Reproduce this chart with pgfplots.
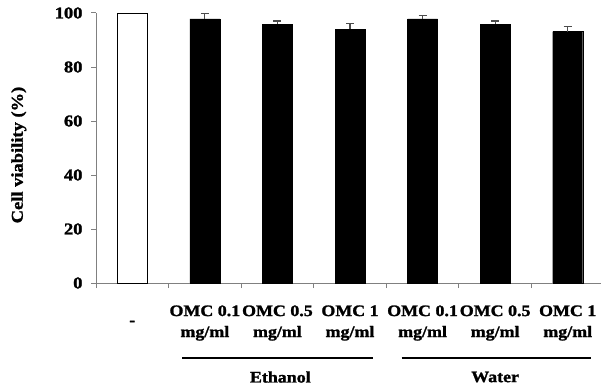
\documentclass[border=0pt]{standalone}
\usepackage{fontspec}
\setmainfont[FakeStretch=1.12, BoldFeatures={FakeBold=1.5}]{Liberation Serif}
\usepackage{pgfplots}
\pgfplotsset{compat=1.18}
\begin{document}
\fontsize{16bp}{21bp}\selectfont\bfseries
\begin{tikzpicture}
\begin{axis}[
  scale only axis,
  width=508bp, height=270bp,
  xmin=-0.5, xmax=6.5,
  ymin=0, ymax=100,
  clip=false,
  axis x line=bottom, axis y line=left,
  axis line style={-, draw=gray, line width=1bp},
  ytick={0,20,40,60,80,100},
  major tick length=5bp,
  tick align=outside,
  tick style={draw=black!50, line width=1bp},
  xtick={-0.5,0.5,1.5,2.5,3.5,4.5,5.5,6.5},
  x tick label as interval,
  xticklabels={-, {OMC 0.1\\mg/ml}, {OMC 0.5\\mg/ml}, {OMC 1\\mg/ml}, {OMC 0.1\\mg/ml}, {OMC 0.5\\mg/ml}, {OMC 1\\mg/ml}},
  xticklabel style={align=center, anchor=center, yshift=-35bp, font=\fontsize{16bp}{21bp}\selectfont\bfseries},
  yticklabel style={xshift=-3bp, font=\fontsize{16.5bp}{18bp}\selectfont\bfseries},
  /pgf/number format/assume math mode=true,
  ylabel={Cell viability (\%)},
  ylabel style={at={(axis description cs:-0.152,0.474)}, anchor=center, font=\fontsize{16.5bp}{18bp}\selectfont\bfseries},
  ybar, bar width=30bp,
  error bars/y dir=plus, error bars/y explicit,
  error bars/error bar style={draw=black!70, line width=1.2bp},
  error bars/error mark options={rotate=90, mark size=4bp, draw=black!70, line width=1.2bp},
]
\addplot[bar shift=0pt, fill=white, draw=black, line width=0.8bp, error bars/y dir=none] coordinates {(0,100)};
\addplot[bar shift=0pt, fill=black, draw=black] coordinates {
  (1,97.8) +- (0,1.9)
  (2,95.9) +- (0,1.1)
  (3,94.0) +- (0,2.1)
  (4,97.8) +- (0,1.2)
  (5,95.9) +- (0,1.1)
  (6,93.1) +- (0,1.9)
};
\draw[line width=1.5bp] ([yshift=-75bp]axis cs:0.69,0) -- ([yshift=-75bp]axis cs:3.31,0);
\draw[line width=1.5bp] ([yshift=-75bp]axis cs:3.71,0) -- ([yshift=-75bp]axis cs:6.32,0);
\node at ([yshift=-94bp]axis cs:2.04,0) {Ethanol};
\node at ([yshift=-94bp]axis cs:5.0,0) {Water};
\coordinate (BL) at (rel axis cs:0,0);
\coordinate (TR) at (rel axis cs:1,1);
\end{axis}
\pgfresetboundingbox
\path[use as bounding box] ([shift={(-96bp,-106bp)}]BL) rectangle ([shift={(-3bp,13bp)}]TR);
\end{tikzpicture}
\end{document}
